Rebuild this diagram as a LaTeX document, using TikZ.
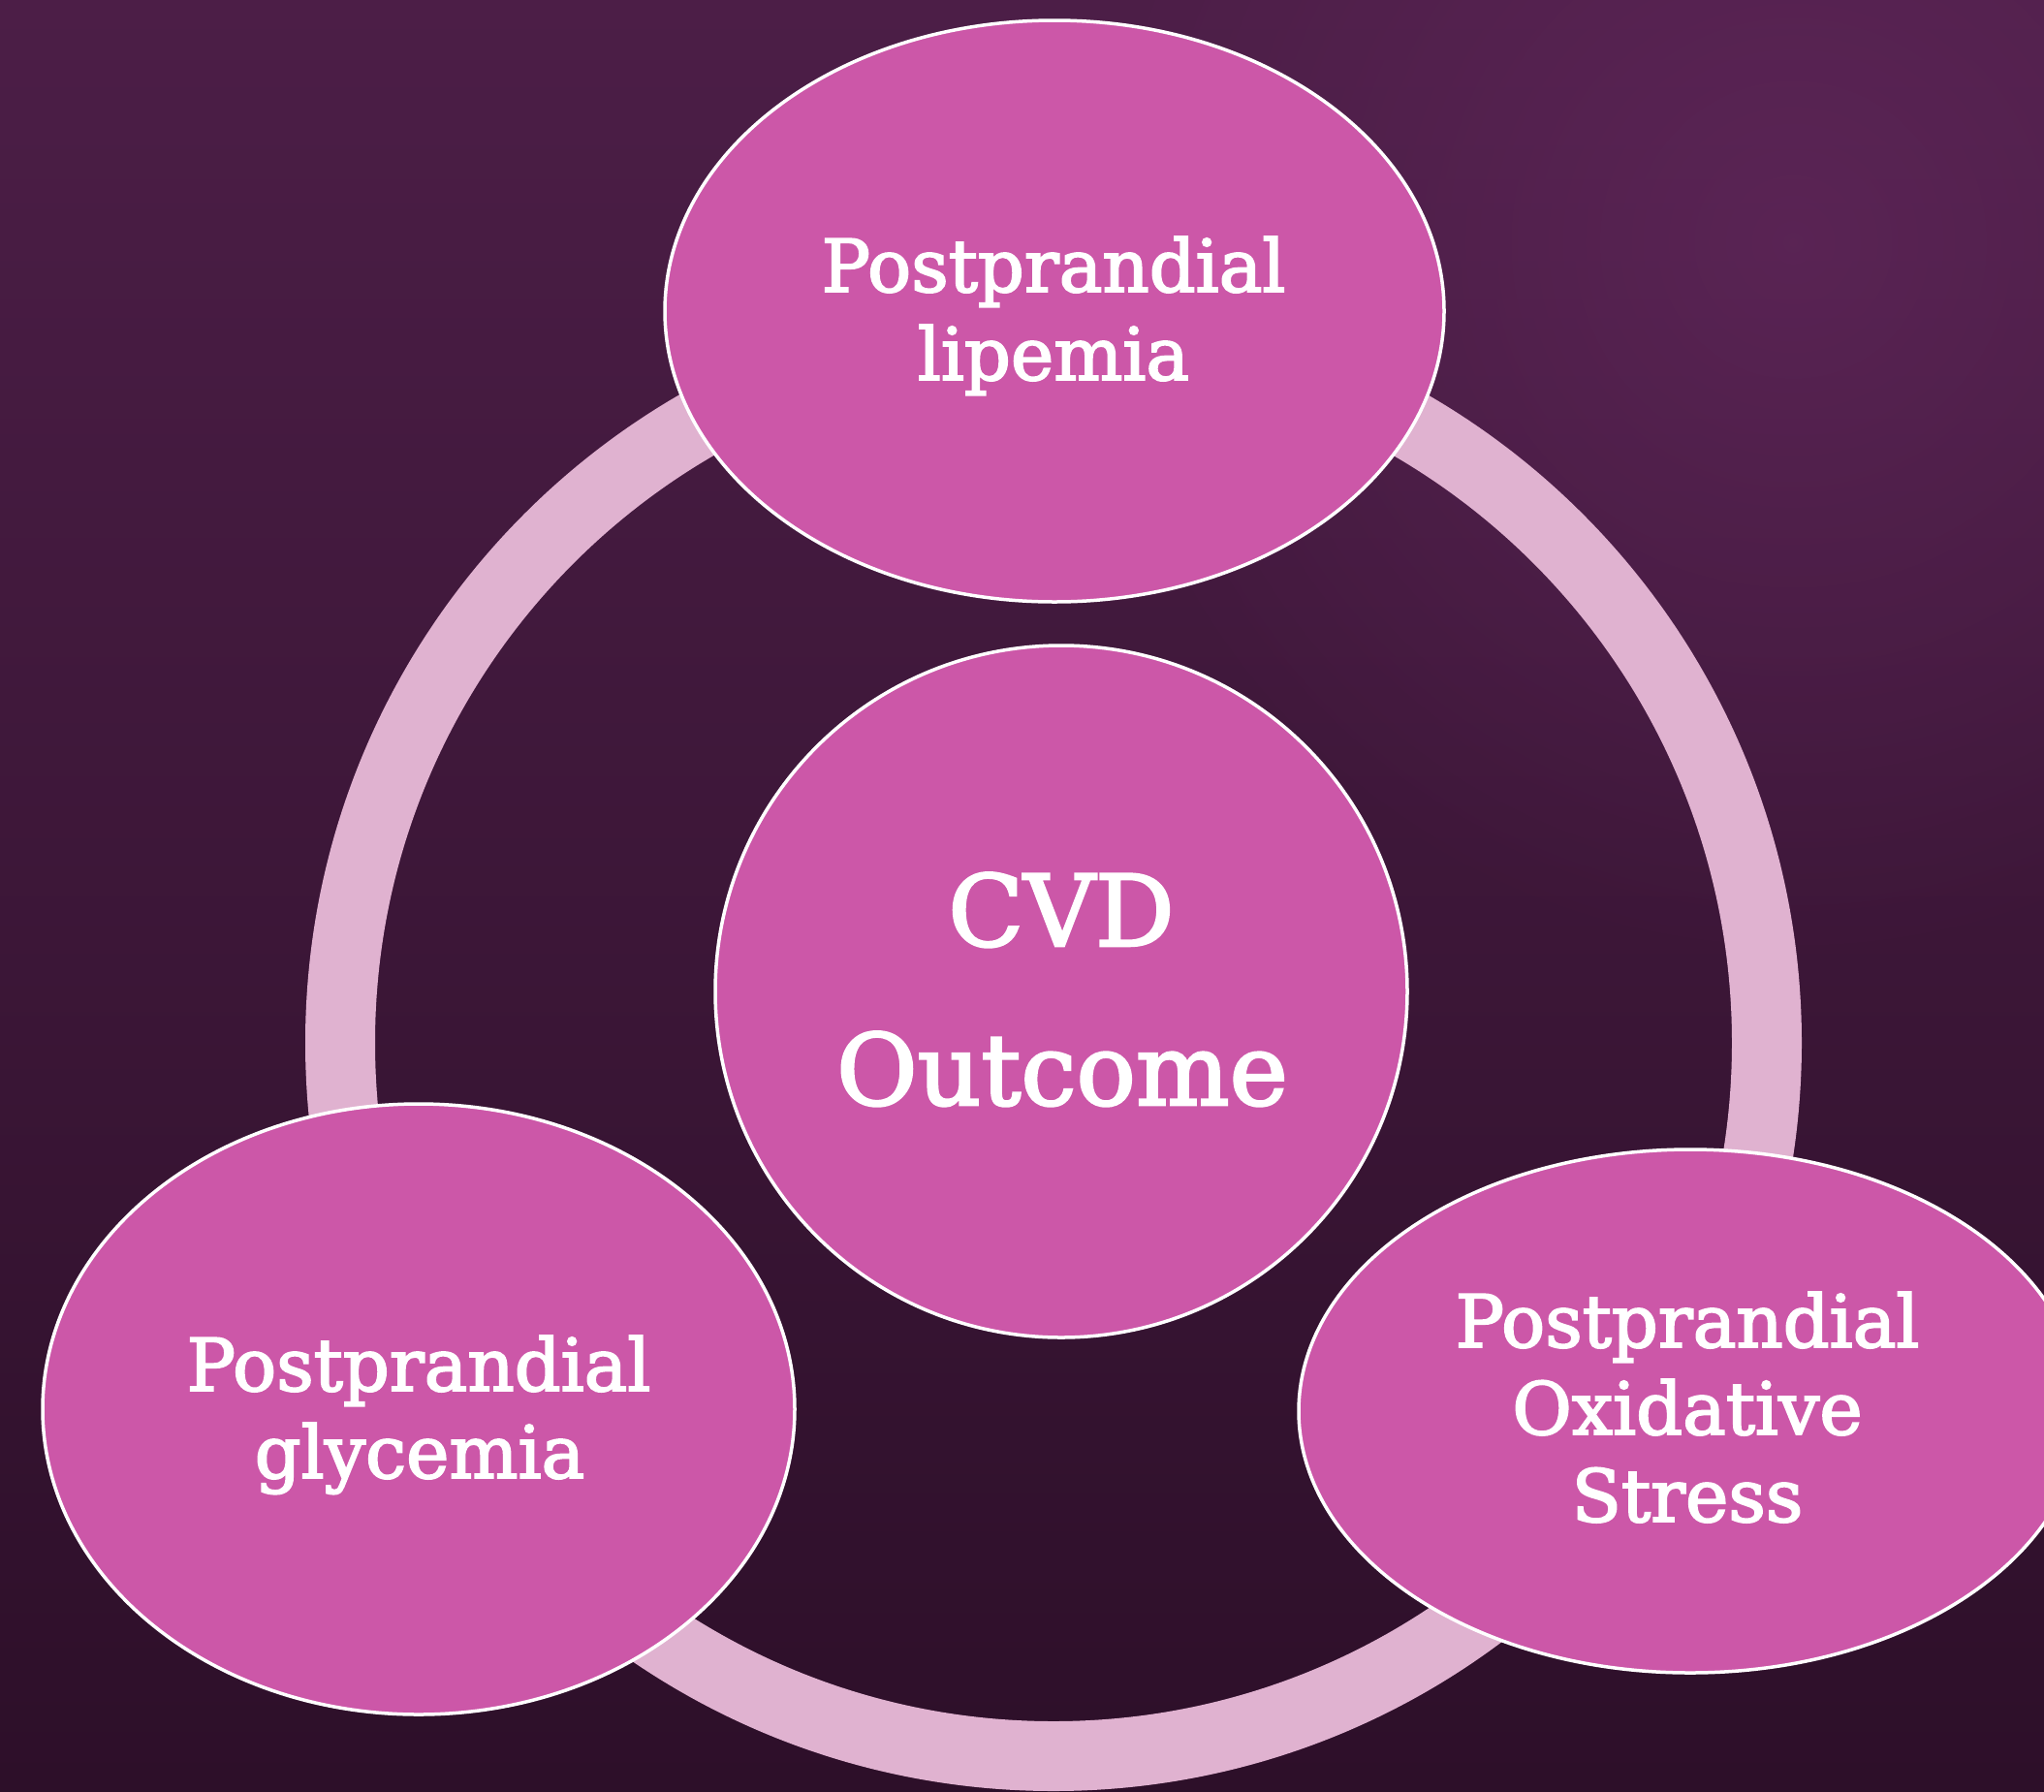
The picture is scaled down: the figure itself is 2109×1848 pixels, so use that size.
\documentclass[tikz,border=0pt]{standalone}
\usepackage{fontspec}
\setmainfont{DejaVu Serif}[FakeBold=2.5]
\usetikzlibrary{shapes.geometric,fadings}
\definecolor{bgtop}{RGB}{76,30,71}
\definecolor{bgbot}{RGB}{45,15,41}
\definecolor{glow}{RGB}{112,46,106}
\definecolor{bub}{RGB}{204,87,168}
\definecolor{ringc}{RGB}{224,178,208}
\tikzfading[name=myglow, inner color=transparent!0, outer color=transparent!100]
\begin{document}
\begin{tikzpicture}[x=1pt,y=-1pt,
  bubble/.style={ellipse, draw=white, line width=3.5pt, fill=bub, inner sep=0pt},
  lbl/.style={text=white, anchor=base, inner sep=0pt, font=\fontsize{75}{90}\selectfont},
  biglbl/.style={text=white, anchor=base, inner sep=0pt, font=\fontsize{102}{120}\selectfont}]
\useasboundingbox (0,0) rectangle (2109,1848);
\shade[top color=bgtop, bottom color=bgbot] (0,0) rectangle (2109,1848);
\fill[glow, path fading=myglow, opacity=0.45] (1850,250) circle (750pt);
\coordinate (rc) at (1087,1076);
\draw[ringc, line width=72pt] (rc) circle (736pt);
\node[bubble, minimum width=804pt, minimum height=600pt] (top) at (1088,321) {};
\node[bubble, minimum width=776pt, minimum height=630pt] (bl) at (432,1454) {};
\node[bubble, minimum width=808pt, minimum height=540pt] (br) at (1744,1456) {};
\node[bubble, circle, minimum size=714pt] (cvd) at (1095,1023) {};
\node[lbl] (t1) at (1087,301) {Postprandial};
\node[lbl] (t2) at (1087,392) {lipemia};
\node[lbl] (b1) at (432,1435) {Postprandial};
\node[lbl] (b2) at (433,1525) {glycemia};
\node[lbl] (r1) at (1741,1390) {Postprandial};
\node[lbl] (r2) at (1741,1480) {Oxidative};
\node[lbl] (r3) at (1741,1570) {Stress};
\node[biglbl] (c1) at (1095,976) {CVD};
\node[biglbl] (c2) at (1096,1140) {Outcome};
\end{tikzpicture}
\end{document}
